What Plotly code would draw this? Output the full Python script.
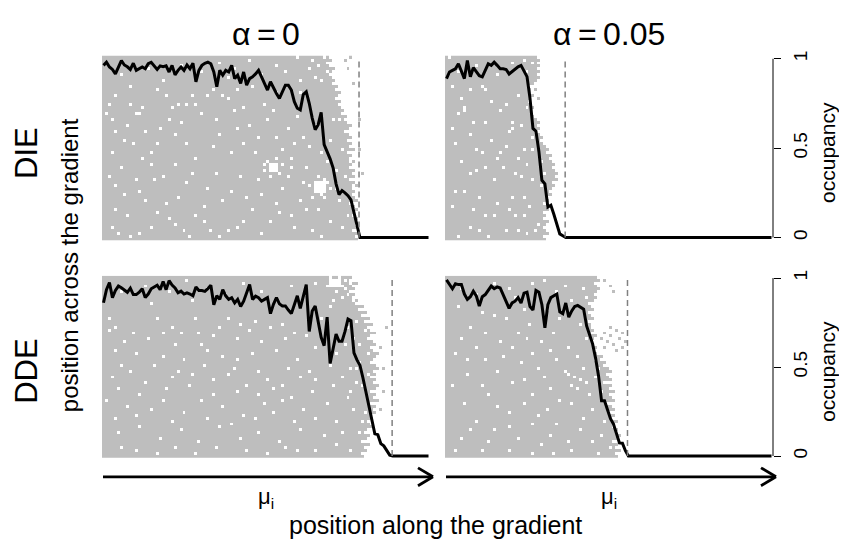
import numpy as np
import plotly.graph_objects as go

# page is 847x547; the html body has an 8px margin, so the figure is 839x539 offset by 8px
FW, FH, OFF = 839, 539, 8
NCOL, NROW = 110, 62
END_COL = 109

# ---- occupancy profiles (one value per grid column, from column 0) ----
occ_die0 = [0.963, 0.981, 0.954, 0.94, 0.915, 0.95, 0.99, 0.965, 0.955, 0.94,
            0.975, 0.935, 0.944, 0.954, 0.944, 0.972, 0.98, 0.963, 0.94, 0.96,
            0.955, 0.96, 0.926, 0.963, 0.91, 0.935, 0.954, 0.935, 0.965, 0.944,
            0.975, 0.871, 0.935, 0.963, 0.975, 0.981, 0.972, 0.926, 0.843, 0.935,
            0.908, 0.935, 0.926, 0.963, 0.889, 0.908, 0.862, 0.926, 0.852, 0.889,
            0.899, 0.915, 0.935, 0.899, 0.862, 0.825, 0.871, 0.834, 0.806, 0.778,
            0.815, 0.852, 0.852, 0.825, 0.76, 0.723, 0.714, 0.80, 0.815, 0.751,
            0.668, 0.603, 0.631, 0.70, 0.52, 0.483, 0.44, 0.39, 0.30, 0.24,
            0.262, 0.25, 0.234, 0.21, 0.14, 0.07, 0.0]
occ_die05 = [0.889, 0.926, 0.935, 0.944, 0.972, 0.935, 0.889, 0.99, 0.899, 0.95,
             0.93, 0.905, 0.899, 0.935, 0.972, 0.963, 0.981, 0.963, 0.944, 0.944,
             0.94, 0.915, 0.93, 0.944, 0.955, 0.963, 0.93, 0.90, 0.78, 0.61,
             0.595, 0.48, 0.32, 0.30, 0.17, 0.18, 0.13, 0.07, 0.02, 0.01, 0.0]
occ_dde0 = [0.861, 0.935, 0.975, 0.89, 0.93, 0.955, 0.945, 0.93, 0.92, 0.943,
            0.907, 0.907, 0.92, 0.94, 0.89, 0.91, 0.94, 0.95, 0.96, 0.935,
            0.98, 0.935, 0.985, 0.96, 0.944, 0.917, 0.926, 0.91, 0.917, 0.91,
            0.90, 0.95, 0.93, 0.93, 0.925, 0.94, 0.96, 0.85, 0.90, 0.88,
            0.935, 0.90, 0.88, 0.889, 0.86, 0.88, 0.84, 0.87, 0.915, 0.963,
            0.88, 0.898, 0.889, 0.87, 0.88, 0.89, 0.80, 0.852, 0.89, 0.855,
            0.843, 0.843, 0.82, 0.80, 0.85, 0.90, 0.83, 0.90, 0.963, 0.70,
            0.815, 0.843, 0.75, 0.667, 0.62, 0.78, 0.52, 0.60, 0.685, 0.645,
            0.645, 0.70, 0.77, 0.76, 0.58, 0.54, 0.51, 0.44, 0.36, 0.29,
            0.21, 0.125, 0.12, 0.07, 0.057, 0.03, 0.005, 0.0]
occ_dde05 = [0.99, 0.963, 0.94, 0.968, 0.963, 0.963, 0.91, 0.88, 0.895, 0.926,
             0.90, 0.843, 0.895, 0.907, 0.935, 0.955, 0.94, 0.95, 0.944, 0.907,
             0.875, 0.83, 0.86, 0.87, 0.89, 0.86, 0.915, 0.92, 0.84, 0.82,
             0.93, 0.92, 0.85, 0.72, 0.85, 0.89, 0.90, 0.91, 0.81, 0.80,
             0.86, 0.78, 0.815, 0.84, 0.846, 0.833, 0.825, 0.731, 0.683, 0.63,
             0.55, 0.45, 0.31, 0.31, 0.26, 0.21, 0.18, 0.12, 0.074, 0.072,
             0.03, 0.0]

# range limit (dashed line), in column units
dash_x = [85.7, 39.8, 96.8, 60.7]

# ---- occupied-cell grids: right edge of occupied cells per row (row 0 = bottom) ----
edge_die0 = [86, 85, 86, 84, 86, 85, 85, 86, 84, 85, 86, 85, 84, 86, 85, 84, 85, 84, 86, 85,
             83, 85, 84, 85, 83, 84, 85, 83, 84, 83, 85, 83, 84, 82, 84, 83, 82, 83, 84, 82,
             81, 82, 80, 81, 80, 79, 80, 78, 79, 80, 78, 79, 77, 78, 77, 76, 77, 78, 76, 75,
             77, 76]
edge_die05 = [34, 33, 35, 34, 33, 34, 35, 33, 34, 33, 35, 34, 33, 35, 34, 36, 35, 36, 37, 36,
              38, 37, 38, 37, 36, 37, 36, 35, 36, 34, 35, 34, 33,
              32, 33, 32, 31, 32, 31, 32, 31,
              30, 29, 29, 30, 29, 28, 29, 30, 29, 29, 28, 30, 31,
              32, 31, 32, 31, 32, 31, 32, 31]
edge_dde0 = [88, 87, 89, 88, 90, 88, 89, 90, 88, 89, 91, 90, 89, 91, 90, 92,
             91, 92, 90, 93, 91, 92, 90, 92, 93, 91, 92, 90, 92, 91, 93, 92, 90, 91,
             92, 93, 91, 90, 92, 91, 89, 90, 92, 90, 89, 91, 88, 90, 87, 89, 86, 88, 85,
             86, 84, 85, 83, 85, 84, 86, 83, 85]
edge_dde05 = [58, 57, 59, 57, 58, 56, 58, 59, 57, 58, 56, 57, 58, 56, 57, 55, 57, 56, 55, 57,
              56, 55, 57, 55, 56, 54, 56, 55, 54, 56, 55, 53, 54, 52, 53, 51,
              50, 51, 50, 49, 50, 51, 49, 50, 49,
              49, 48, 50, 49, 48, 50, 49, 48, 50, 51, 50,
              51, 52, 51, 50, 52, 51]

# empty cells (column, row) inside the occupied block
holes_die0 = [(4, 48), (2, 45), (4, 36), (3, 29), (2, 21), (4, 18), (4, 10), (5, 2), (9, 45), (10, 32),
              (11, 42), (12, 42), (13, 44), (14, 36), (16, 29), (18, 32), (18, 50), (21, 48), (22, 40),
              (23, 44), (24, 35), (25, 45), (28, 45), (28, 32), (30, 48), (31, 45), (35, 48), (31, 27),
              (35, 17), (37, 31), (38, 40), (40, 48), (42, 47), (44, 43), (45, 37), (45, 50), (47, 44),
              (47, 32), (48, 14), (49, 38), (51, 29), (52, 20), (54, 45), (54, 25), (55, 40), (56, 24),
              (58, 34), (60, 30), (60, 17), (63, 27), (64, 32), (65, 41), (66, 49), (67, 19), (68, 10),
              (69, 31), (71, 38), (74, 20), (76, 33), (78, 23), (80, 45), (82, 29), (83, 12), (21, 12),
              (24, 5), (14, 13), (11, 20), (8, 8), (18, 9), (28, 19), (31, 8), (36, 3), (42, 3), (47, 6),
              (50, 10), (56, 6), (63, 8), (70, 3), (76, 6), (79, 13), (9, 51), (12, 2), (29, 1), (40, 13),
              (46, 21), (24, 25), (20, 21), (16, 25), (8, 38), (37, 50), (50, 51), (58, 49), (1, 42),
              (7, 15), (70, 60), (72, 58), (74, 61), (75, 56), (71, 54), (73, 53), (69, 57), (49, 60),
              (65, 61), (58, 58), (42, 54), (31, 54), (79, 40), (81, 36), (83, 26), (80, 30), (84, 18),
              (82, 8), (6, 55), (15, 57), (20, 53), (26, 58), (33, 56), (39, 59), (44, 57), (53, 55),
              (61, 56), (66, 53), (3, 40), (7, 33), (13, 27), (19, 37), (26, 39), (33, 42), (39, 35),
              (43, 29), (52, 34), (57, 43), (62, 37), (67, 34), (73, 29), (77, 40), (6, 24), (12, 16),
              (17, 20), (25, 14), (30, 22), (34, 11), (38, 22), (43, 16), (53, 15), (58, 12), (62, 21),
              (66, 13), (72, 10), (78, 17), (81, 21), (3, 4), (9, 1), (16, 4), (22, 7), (27, 3), (34, 6),
              (39, 1), (45, 4), (53, 2), (59, 9), (64, 4), (73, 1), (80, 4), (84, 10), (75, 26), (68, 24),
              (63, 24), (54, 23), (60, 25), (58, 27), (56, 21), (69, 18), (76, 17), (72, 21), (70, 14),
              (74, 14), (55, 26), (59, 22), (73, 15), (75, 19)]
holes_die05 = [(12, 51), (13, 50), (8, 50), (6, 44), (6, 43), (4, 42), (18, 43), (20, 45), (9, 39),
               (13, 39), (22, 39), (22, 37), (25, 38), (21, 36), (8, 35), (2, 37), (10, 30), (18, 29),
               (12, 29), (26, 30), (29, 30), (17, 27), (10, 23), (13, 24), (8, 22), (23, 22), (25, 21),
               (29, 20), (3, 16), (6, 16), (11, 14), (22, 14), (26, 14), (21, 10), (13, 8), (16, 8),
               (23, 8), (26, 8), (8, 4), (11, 3), (20, 3), (24, 3), (30, 3), (29, 34), (29, 59), (26, 60),
               (31, 53), (1, 61), (2, 51), (33, 12), (35, 16), (34, 8), (32, 18), (36, 19), (31, 5),
               (4, 56), (10, 58), (17, 55), (22, 59), (27, 56), (5, 47), (15, 46), (24, 48), (27, 44),
               (3, 32), (15, 33), (20, 31), (24, 27), (5, 26), (16, 20), (19, 24), (27, 25), (2, 11),
               (9, 10), (17, 12), (28, 11), (4, 1), (14, 1), (27, 2), (32, 26), (33, 22)]
holes_dde0 = [(2, 47), (4, 44), (2, 43), (10, 42), (16, 52), (18, 47), (20, 42), (23, 44), (26, 42),
              (30, 53), (31, 47), (32, 42), (37, 41), (42, 47), (46, 45), (49, 43), (51, 46), (56, 44),
              (60, 45), (64, 42), (69, 46), (73, 47), (76, 51), (4, 36), (11, 35), (20, 34), (27, 33),
              (35, 36), (40, 34), (45, 33), (50, 35), (58, 36), (65, 33), (71, 37), (78, 35), (86, 32),
              (3, 27), (9, 29), (14, 25), (23, 27), (30, 28), (37, 26), (42, 28), (48, 24), (55, 26),
              (60, 24), (66, 27), (71, 26), (80, 27), (87, 24), (1, 19), (8, 17), (16, 16), (20, 19),
              (27, 15), (33, 19), (40, 17), (47, 14), (54, 18), (60, 19), (67, 16), (75, 18), (82, 20),
              (88, 15), (5, 8), (12, 10), (19, 6), (26, 9), (32, 5), (39, 10), (46, 6), (52, 8), (59, 5),
              (66, 9), (74, 7), (80, 8), (87, 5), (11, 2), (31, 1), (48, 2), (65, 2), (83, 2), (76, 61),
              (77, 60), (79, 58), (80, 58), (81, 57), (78, 56), (82, 55), (84, 61), (83, 59), (80, 54),
              (77, 53), (75, 58), (79, 61), (81, 60), (84, 53), (84, 40), (86, 38), (88, 43), (85, 30),
              (89, 28), (83, 22), (87, 12), (85, 46), (82, 44), (89, 35), (6, 56), (14, 58), (22, 56),
              (28, 60), (35, 57), (41, 55), (47, 59), (53, 56), (58, 53), (63, 58), (68, 55), (71, 59),
              (7, 39), (15, 40), (24, 38), (33, 38), (39, 44), (45, 40), (53, 39), (61, 40), (68, 41),
              (75, 43), (81, 38), (6, 31), (17, 31), (25, 29), (34, 31), (44, 30), (52, 29), (62, 30),
              (69, 29), (76, 31), (83, 30), (5, 23), (12, 21), (21, 23), (29, 24), (37, 21), (45, 22),
              (52, 21), (57, 23), (63, 20), (70, 22), (77, 24), (85, 25), (4, 13), (11, 14), (23, 12),
              (35, 13), (43, 11), (51, 13), (57, 15), (64, 12), (71, 13), (78, 12), (84, 16), (6, 3),
              (18, 1), (24, 3), (38, 3), (55, 1), (61, 3), (71, 2), (78, 4), (86, 8)]
holes_dde05 = [(12, 49), (16, 48), (20, 47), (8, 44), (13, 42), (24, 42), (5, 40), (18, 39), (27, 40),
               (32, 39), (10, 37), (22, 37), (29, 35), (35, 36), (41, 37), (3, 35), (13, 33), (25, 32),
               (37, 33), (44, 34), (7, 28), (17, 29), (31, 30), (40, 29), (46, 30), (2, 24), (12, 24),
               (22, 25), (29, 21), (35, 23), (42, 24), (48, 21), (6, 18), (17, 17), (26, 18), (34, 16),
               (42, 18), (49, 16), (54, 18), (10, 12), (21, 10), (29, 11), (37, 11), (45, 9), (53, 12),
               (5, 6), (14, 5), (24, 6), (32, 4), (41, 5), (49, 5), (55, 3), (12, 2), (29, 1), (42, 2),
               (23, 54), (37, 56), (46, 57), (29, 59), (42, 53), (34, 50), (41, 28), (43, 27), (45, 26),
               (44, 23), (47, 25), (50, 27), (52, 22), (51, 30), (5, 57), (10, 55), (16, 59), (21, 57),
               (33, 60), (40, 58), (47, 54), (4, 51), (26, 50), (38, 47), (45, 45), (28, 45), (36, 42),
               (47, 40), (7, 33), (19, 34), (33, 27), (26, 26), (14, 21), (38, 19), (21, 15), (31, 14),
               (46, 13), (8, 9), (16, 9), (35, 7), (52, 7), (3, 2), (21, 2), (36, 1), (51, 1), (50, 33),
               (53, 25)]

# occupied cells (column, row) outside the main block
specks_die0 = [(81, 60), (83, 61), (82, 57), (84, 52), (86, 40), (87, 22), (86, 30)]
specks_die05 = [(31, 47), (30, 50)]
specks_dde0 = [(93, 37), (94, 30), (93, 16), (95, 44), (94, 22)]
specks_dde05 = [(53, 42), (55, 41), (57, 43), (59, 42), (54, 39), (56, 38), (58, 40), (60, 39),
                (53, 37), (57, 36), (59, 37), (55, 44), (52, 40), (55, 58), (53, 60), (56, 56)]

# empty patches (col0, col1, row0, row1)
patches_die0 = [(56, 58, 23, 25), (71, 74, 16, 19)]
patches_die05 = []
patches_dde0 = [(76, 79, 58, 60)]
patches_dde05 = []

col_titles = ["α\u2009=\u20090", "α\u2009=\u20090.05"]
row_titles = ["DIE", "DDE"]
occ_ticks = [0, 0.5, 1]
occ_ticktext = ["0", "0.5", "1"]

FONT = "Liberation Sans, Arial, sans-serif"


def px(X):
    return (X - OFF) / FW


def py(Y):
    return 1 - (Y - OFF) / FH


def build_grid(edge, holes, specks, patches):
    z = np.zeros((NROW, NCOL))
    for r, e in enumerate(edge):
        z[r, :e] = 1
    for c0, c1, r0, r1 in patches:
        z[r0:r1 + 1, c0:c1 + 1] = 0
    for c, r in holes:
        z[r, c] = 0
    for c, r in specks:
        z[r, c] = 1
    return z


panels = [
    dict(occ=occ_die0, edge=edge_die0, holes=holes_die0, specks=specks_die0, patches=patches_die0,
         xpx=(102, 430), ypx=(50, 237), orange=(-0.0166, 1.018), right=False),
    dict(occ=occ_die05, edge=edge_die05, holes=holes_die05, specks=specks_die05, patches=patches_die05,
         xpx=(445, 773), ypx=(50, 237), orange=(-0.0166, 1.018), right=True),
    dict(occ=occ_dde0, edge=edge_dde0, holes=holes_dde0, specks=specks_dde0, patches=patches_dde0,
         xpx=(102, 430), ypx=(272.7, 457), orange=(-0.011, 1.0128), right=False),
    dict(occ=occ_dde05, edge=edge_dde05, holes=holes_dde05, specks=specks_dde05, patches=patches_dde05,
         xpx=(445, 773), ypx=(272.7, 457), orange=(-0.011, 1.0128), right=True),
]

fig = go.Figure()
layout = dict(width=FW, height=FH, margin=dict(l=0, r=0, t=0, b=0),
              paper_bgcolor="white", plot_bgcolor="rgba(0,0,0,0)", showlegend=False,
              font=dict(family=FONT, color="black"))
shapes = []
annotations = []

cols = list(range(NCOL))
rows = list(range(NROW))

for i, p in enumerate(panels):
    n = i + 1
    sfx = "" if n == 1 else str(n)
    xa, ya, yo = "x" + sfx, "y" + sfx, "y" + str(n + 4)
    z = build_grid(p["edge"], p["holes"], p["specks"], p["patches"])
    fig.add_trace(go.Heatmap(z=z, x=cols, y=rows, xaxis=xa, yaxis=ya, zmin=0, zmax=1,
                             colorscale=[[0, "rgba(255,255,255,0)"], [1, "#bebebe"]],
                             showscale=False, hoverinfo="skip"))
    occ = p["occ"]
    lx = list(range(len(occ))) + [END_COL]
    ly = list(occ) + [0.0]
    fig.add_trace(go.Scatter(x=lx, y=ly, mode="lines", xaxis=xa, yaxis=yo,
                             line=dict(color="black", width=3), hoverinfo="skip"))
    layout["xaxis" + sfx] = dict(domain=[px(p["xpx"][0]), px(p["xpx"][1])], range=[-0.5, NCOL - 0.5],
                                 visible=False, anchor=ya, fixedrange=True)
    layout["yaxis" + sfx] = dict(domain=[py(p["ypx"][1]), py(p["ypx"][0])],
                                 range=[-0.5, NROW - 0.5], visible=False, anchor=xa, fixedrange=True)
    oax = dict(overlaying=ya, anchor=xa, range=list(p["orange"]), showgrid=False, zeroline=False,
               fixedrange=True)
    if p["right"]:
        oax.update(side="right", showline=False, ticks="outside", ticklen=7, tickwidth=1,
                   tickcolor="black", tickvals=occ_ticks, ticktext=occ_ticktext, tickangle=-90,
                   tickfont=dict(size=19, family=FONT, color="black"), ticklabelstandoff=3)
        shapes.append(dict(type="line", xref=xa + " domain", yref=yo, x0=1, x1=1, y0=0, y1=1,
                           line=dict(color="black", width=1)))
        annotations.append(dict(text="occupancy", xref="paper", yref="paper", x=px(828),
                                y=py((p["ypx"][0] + p["ypx"][1]) / 2 + 5),
                                textangle=-90, showarrow=False, xanchor="center", yanchor="middle",
                                font=dict(size=21, family=FONT)))
    else:
        oax.update(visible=False)
    layout["yaxis" + str(n + 4)] = oax
    shapes.append(dict(type="line", xref=xa, yref=yo, x0=dash_x[i], x1=dash_x[i], y0=0, y1=1,
                       line=dict(color="#808080", width=1.5, dash="6px,4px"), layer="above"))

# column titles, bottom labels, arrows
for j, t in enumerate(col_titles):
    xc = (panels[j]["xpx"][0] + panels[j]["xpx"][1]) / 2
    annotations.append(dict(text=t, xref="paper", yref="paper", x=px(xc), y=1,
                            showarrow=False, xanchor="center", yanchor="top",
                            font=dict(size=32, family=FONT)))
    annotations.append(dict(text="μ<sub>i</sub>", xref="paper", yref="paper", x=px(xc), y=py(497),
                            showarrow=False, xanchor="center", yanchor="middle",
                            font=dict(size=22, family=FONT)))
    x0 = px(panels[j]["xpx"][0] + 1)
    x1 = px(panels[j]["xpx"][1] + 3)
    ya_ = py(476)
    shapes.append(dict(type="line", xref="paper", yref="paper", x0=x0, x1=x1 - 1 / FW, y0=ya_, y1=ya_,
                       line=dict(color="black", width=2.8)))
    for s in (-1, 1):
        shapes.append(dict(type="line", xref="paper", yref="paper", x0=x1 - 15 / FW, x1=x1,
                           y0=ya_ + s * 9 / FH, y1=ya_, line=dict(color="black", width=2.8)))

for k, t in enumerate(row_titles):
    yc = (panels[2 * k]["ypx"][0] + panels[2 * k]["ypx"][1]) / 2 + 5
    annotations.append(dict(text=t, xref="paper", yref="paper", x=px(27), y=py(yc), textangle=-90,
                            showarrow=False, xanchor="center", yanchor="middle",
                            font=dict(size=31, family=FONT)))

annotations.append(dict(text="position across the gradient", xref="paper", yref="paper", x=px(69),
                        y=py(262), textangle=-90, showarrow=False, xanchor="center",
                        yanchor="middle", font=dict(size=24, family=FONT)))
annotations.append(dict(text="position along the gradient", xref="paper", yref="paper", x=px(435),
                        y=py(525), showarrow=False, xanchor="center", yanchor="middle",
                        font=dict(size=25, family=FONT)))

layout["shapes"] = shapes
layout["annotations"] = annotations
fig.update_layout(**layout)
fig.write_html("out.html")
